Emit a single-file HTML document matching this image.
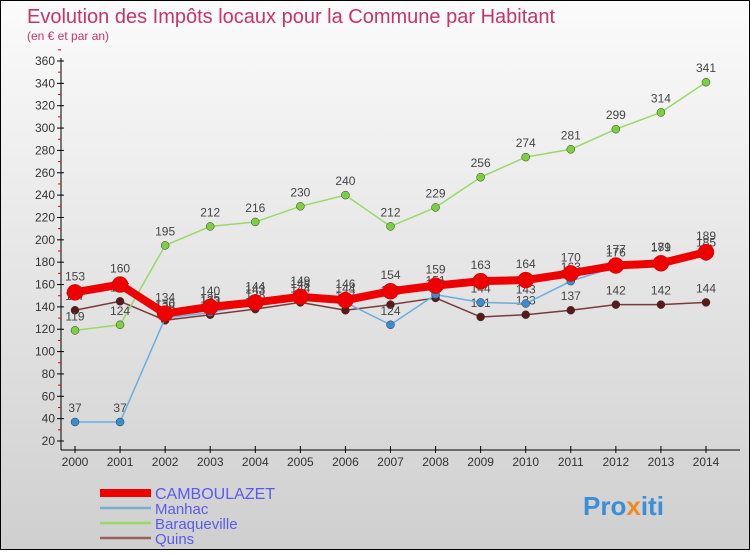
<!DOCTYPE html>
<html><head><meta charset="utf-8"><style>
body{margin:0;width:750px;height:550px;overflow:hidden;font-family:"Liberation Sans",sans-serif}
</style></head><body>
<svg id="c" width="750" height="550" xmlns="http://www.w3.org/2000/svg">
<defs><linearGradient id="bg" x1="0" y1="0" x2="0" y2="1"><stop offset="0" stop-color="#fbfbfb"/><stop offset="1" stop-color="#cfcfcf"/></linearGradient></defs>
<rect x="0.5" y="0.5" width="749" height="549" fill="url(#bg)" stroke="#000"/>
<text x="27" y="23" font-size="20" fill="#c8336a">Evolution des Impôts locaux pour la Commune par Habitant</text>
<text x="27" y="40" font-size="12" fill="#c8336a">(en € et par an)</text>
<g id="axes"></g><g id="series"></g><g id="legend"></g>
<text x="583" y="515" font-size="26" font-weight="bold" fill="#3a8fd8">Pro<tspan fill="#f08a1a">x</tspan>iti</text>
</svg>
<script>
const years=[2000,2001,2002,2003,2004,2005,2006,2007,2008,2009,2010,2011,2012,2013,2014];
const yTicks=[20,40,60,80,100,120,140,160,180,200,220,240,260,280,300,320,340,360];
const seriesNames=["CAMBOULAZET","Manhac","Baraqueville","Quins"];
const camboulazet=[153,160,134,140,144,149,146,154,159,163,164,170,177,179,189];
const manhac=[37,37,130,135,143,148,144,124,151,144,143,163,176,181,185];
const baraqueville=[119,124,195,212,216,230,240,212,229,256,274,281,299,314,341];
const quins=[137,145,128,133,138,144,137,142,148,131,133,137,142,142,144];
const NS="http://www.w3.org/2000/svg";
const x=i=>75+i*(706-75)/(years.length-1);
const y=v=>441-(v-20)*(441-61)/340;
function mk(t,a,p){const e=document.createElementNS(NS,t);for(const k in a)e.setAttribute(k,a[k]);p.appendChild(e);return e;}
const ax=document.getElementById('axes');
const yl=mk('line',{x1:61,y1:58,x2:61,y2:450,stroke:'#000'},ax);


const xl=mk('line',{x1:61,y1:450,x2:740,y2:450,stroke:'#000'},ax);


yTicks.forEach(v=>{
 mk('line',{x1:57,y1:y(v),x2:64,y2:y(v),stroke:'#000'},ax);
 mk('line',{x1:58,y1:y(v+10),x2:61,y2:y(v+10),stroke:'#e00'},ax);
 const t=mk('text',{x:55,y:y(v)+4,'font-size':12,'text-anchor':'end',fill:'#333'},ax);t.textContent=v;
 
 
});
years.forEach((yr,i)=>{
 mk('line',{x1:x(i),y1:446,x2:x(i),y2:453,stroke:'#000'},ax);
 const t=mk('text',{x:x(i),y:466,'font-size':12,'text-anchor':'middle',fill:'#333'},ax);t.textContent=yr;
 
 
});
const sg=document.getElementById('series');
const defs=[
 {d:quins,c:'#7a3a3a',w:1.5,r:4,f:'#5a1a1a'},
 {d:baraqueville,c:'#9ad86a',w:1.5,r:4,f:'#7cd040'},
 {d:manhac,c:'#6aaede',w:1.5,r:4,f:'#3a8ed0'},
 {d:camboulazet,c:'#ee0000',w:8,r:8,f:'#ee0000'}
];
const order=[3,2,1,0];
defs.forEach((s,k)=>{
 const g=mk('g',{},sg);
 
 
 mk('polyline',{points:s.d.map((v,i)=>x(i)+','+y(v)).join(' '),fill:'none',stroke:s.c,'stroke-width':s.w,'stroke-linejoin':'round'},g);
 s.d.forEach((v,i)=>{
  const p=mk('circle',{cx:x(i),cy:y(v),r:s.r,fill:s.f,stroke:k==3?'#c00':'#333','stroke-width':0.5},g);
  
  
  const t=mk('text',{x:x(i),y:y(v)-(k==3?12:10),'font-size':12,'text-anchor':'middle',fill:'#444'},g);t.textContent=v;
  
  
 });
});
const lg=document.getElementById('legend');
const lc=[['#ee0000',8],['#7aaed0',2.5],['#9ad86a',2.5],['#9a6060',2.5]];
seriesNames.forEach((n,i)=>{
 const yy=493+i*15;
 const g=mk('g',{},lg);
 
 
 mk('line',{x1:100,y1:yy,x2:151,y2:yy,stroke:lc[i][0],'stroke-width':lc[i][1]},g);
 const t=mk('text',{x:155,y:yy+6,'font-size':i==0?16:15,fill:'#5a5af0'},g);t.textContent=n;
});
</script>
</body></html>
